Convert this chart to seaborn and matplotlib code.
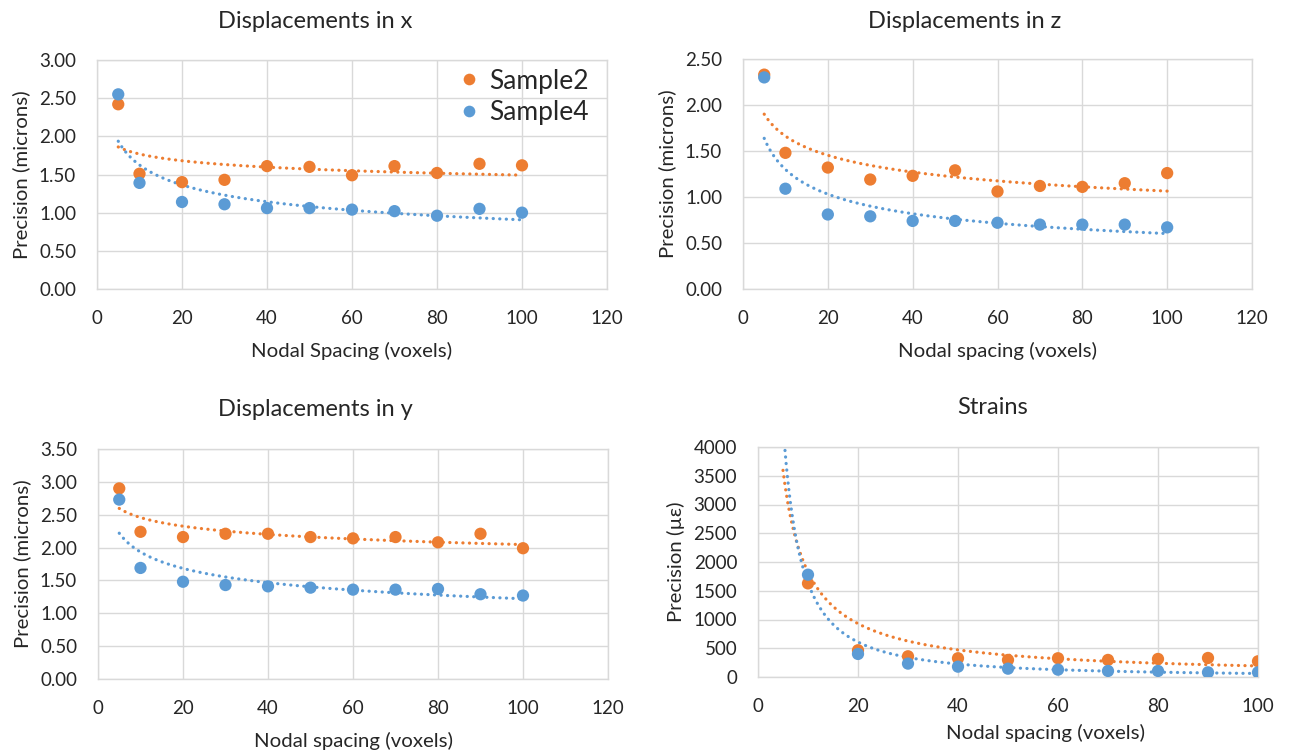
import numpy as np
import pandas as pd
import matplotlib
matplotlib.use("Agg")
import matplotlib.pyplot as plt
import seaborn as sns
from matplotlib.ticker import FormatStrFormatter, MultipleLocator

sns.set_theme(style="white")
plt.rcParams['font.family'] = ['Lato', 'DejaVu Sans']

# ---------------- data ----------------
spacing = [5, 10, 20, 30, 40, 50, 60, 70, 80, 90, 100]

disp_x_s2 = [2.42, 1.51, 1.40, 1.43, 1.61, 1.60, 1.49, 1.61, 1.52, 1.64, 1.62]
disp_x_s4 = [2.55, 1.39, 1.14, 1.11, 1.06, 1.06, 1.04, 1.02, 0.96, 1.05, 1.00]

disp_z_s2 = [2.33, 1.48, 1.32, 1.19, 1.23, 1.29, 1.06, 1.12, 1.11, 1.15, 1.26]
disp_z_s4 = [2.30, 1.09, 0.81, 0.79, 0.74, 0.74, 0.72, 0.70, 0.70, 0.70, 0.67]

disp_y_s2 = [2.90, 2.24, 2.16, 2.21, 2.21, 2.16, 2.14, 2.16, 2.08, 2.21, 1.99]
disp_y_s4 = [2.73, 1.69, 1.48, 1.43, 1.41, 1.39, 1.36, 1.36, 1.37, 1.29, 1.27]

# first value of each strain series lies above the 4000 axis limit (estimated)
strain_s2 = [8000, 1628, 465, 360, 326, 297, 326, 297, 314, 331, 273]
strain_s4 = [6440, 1779, 401, 233, 180, 145, 128, 105, 105, 81, 81]

series_names = ["Sample2", "Sample4"]
colors = {"Sample2": "#ED7D31", "Sample4": "#5B9BD5"}
TEXT = "#262626"

W, H = 1293, 756
fig = plt.figure(figsize=(W / 100, H / 100), dpi=100)


def add_axes_px(left, right, top, bottom):
    return fig.add_axes([left / W, 1 - bottom / H, (right - left) / W, (bottom - top) / H])


def power_fit(x, y):
    x = np.asarray(x, float)
    y = np.asarray(y, float)
    b, a = np.polyfit(np.log(x), np.log(y), 1)
    return np.exp(a), b


def panel(ax, s2, s4, title, xlabel, ylabel, ylim, ystep, xmax, fmt,
          title_x, title_y, legend=False):
    df = pd.DataFrame({
        "spacing": spacing * 2,
        "precision": list(s2) + list(s4),
        "series": ["Sample2"] * len(spacing) + ["Sample4"] * len(spacing),
    })
    # trendlines (power fit, like Excel)
    xs = np.linspace(min(spacing), max(spacing), 300)
    for name, vals in zip(series_names, [s2, s4]):
        a, b = power_fit(spacing, vals)
        ax.plot(xs, a * xs ** b, color=colors[name], lw=2.3,
                linestyle=(0, (0.05, 2.0)), dash_capstyle="round", zorder=3)
    sns.scatterplot(data=df, x="spacing", y="precision", hue="series",
                    hue_order=series_names, palette=colors, s=78,
                    edgecolor="none", ax=ax, legend=legend, zorder=4)
    ax.set_xlim(0, xmax)
    ax.set_ylim(*ylim)
    ax.xaxis.set_major_locator(MultipleLocator(20))
    ax.yaxis.set_major_locator(MultipleLocator(ystep))
    ax.yaxis.set_major_formatter(FormatStrFormatter(fmt))
    ax.grid(True, color="#D9D9D9", lw=1.0)
    ax.set_axisbelow(True)
    for sp in ax.spines.values():
        sp.set_color("#D9D9D9")
        sp.set_linewidth(1.0)
    ax.tick_params(axis="both", length=0, labelsize=13.5, colors=TEXT)
    ax.tick_params(axis="y", pad=15)
    ax.tick_params(axis="x", pad=15)
    ax.set_xlabel(xlabel, fontsize=14.7, color=TEXT, labelpad=11)
    ax.set_ylabel(ylabel, fontsize=14.7, color=TEXT, labelpad=6)
    fig.text(title_x / W, 1 - title_y / H, title, fontsize=17, color=TEXT,
             ha="center", va="center")
    if legend:
        ax.legend(loc="upper right", bbox_to_anchor=(0.99, 1.02), frameon=False,
                  fontsize=19, handlelength=1.0, handletextpad=0.25,
                  labelspacing=0.25, markerscale=0.95, borderaxespad=0.1)
    return ax


ax1 = add_axes_px(97, 607, 60, 289)
ax2 = add_axes_px(743, 1252, 59, 289)
ax3 = add_axes_px(98, 608, 449, 679)
ax4 = add_axes_px(758, 1258, 447, 677)

panel(ax1, disp_x_s2, disp_x_s4, "Displacements in x", "Nodal Spacing (voxels)",
      "Precision (microns)", (0, 3.0), 0.5, 120, "%.2f", 315, 22, legend=True)
panel(ax2, disp_z_s2, disp_z_s4, "Displacements in z", "Nodal spacing (voxels)",
      "Precision (microns)", (0, 2.5), 0.5, 120, "%.2f", 965, 22)
panel(ax3, disp_y_s2, disp_y_s4, "Displacements in y", "Nodal spacing (voxels)",
      "Precision (microns)", (0, 3.5), 0.5, 120, "%.2f", 315, 410)
panel(ax4, strain_s2, strain_s4, "Strains", "Nodal spacing (voxels)",
      "Precision (µε)", (0, 4000), 500, 100, "%d", 993, 408)
ax4.xaxis.set_label_coords((1046 - 758) / 500, -0.245)
ax4.xaxis.label.set_va("center")

fig.savefig("out.png", dpi=100, facecolor="white")
